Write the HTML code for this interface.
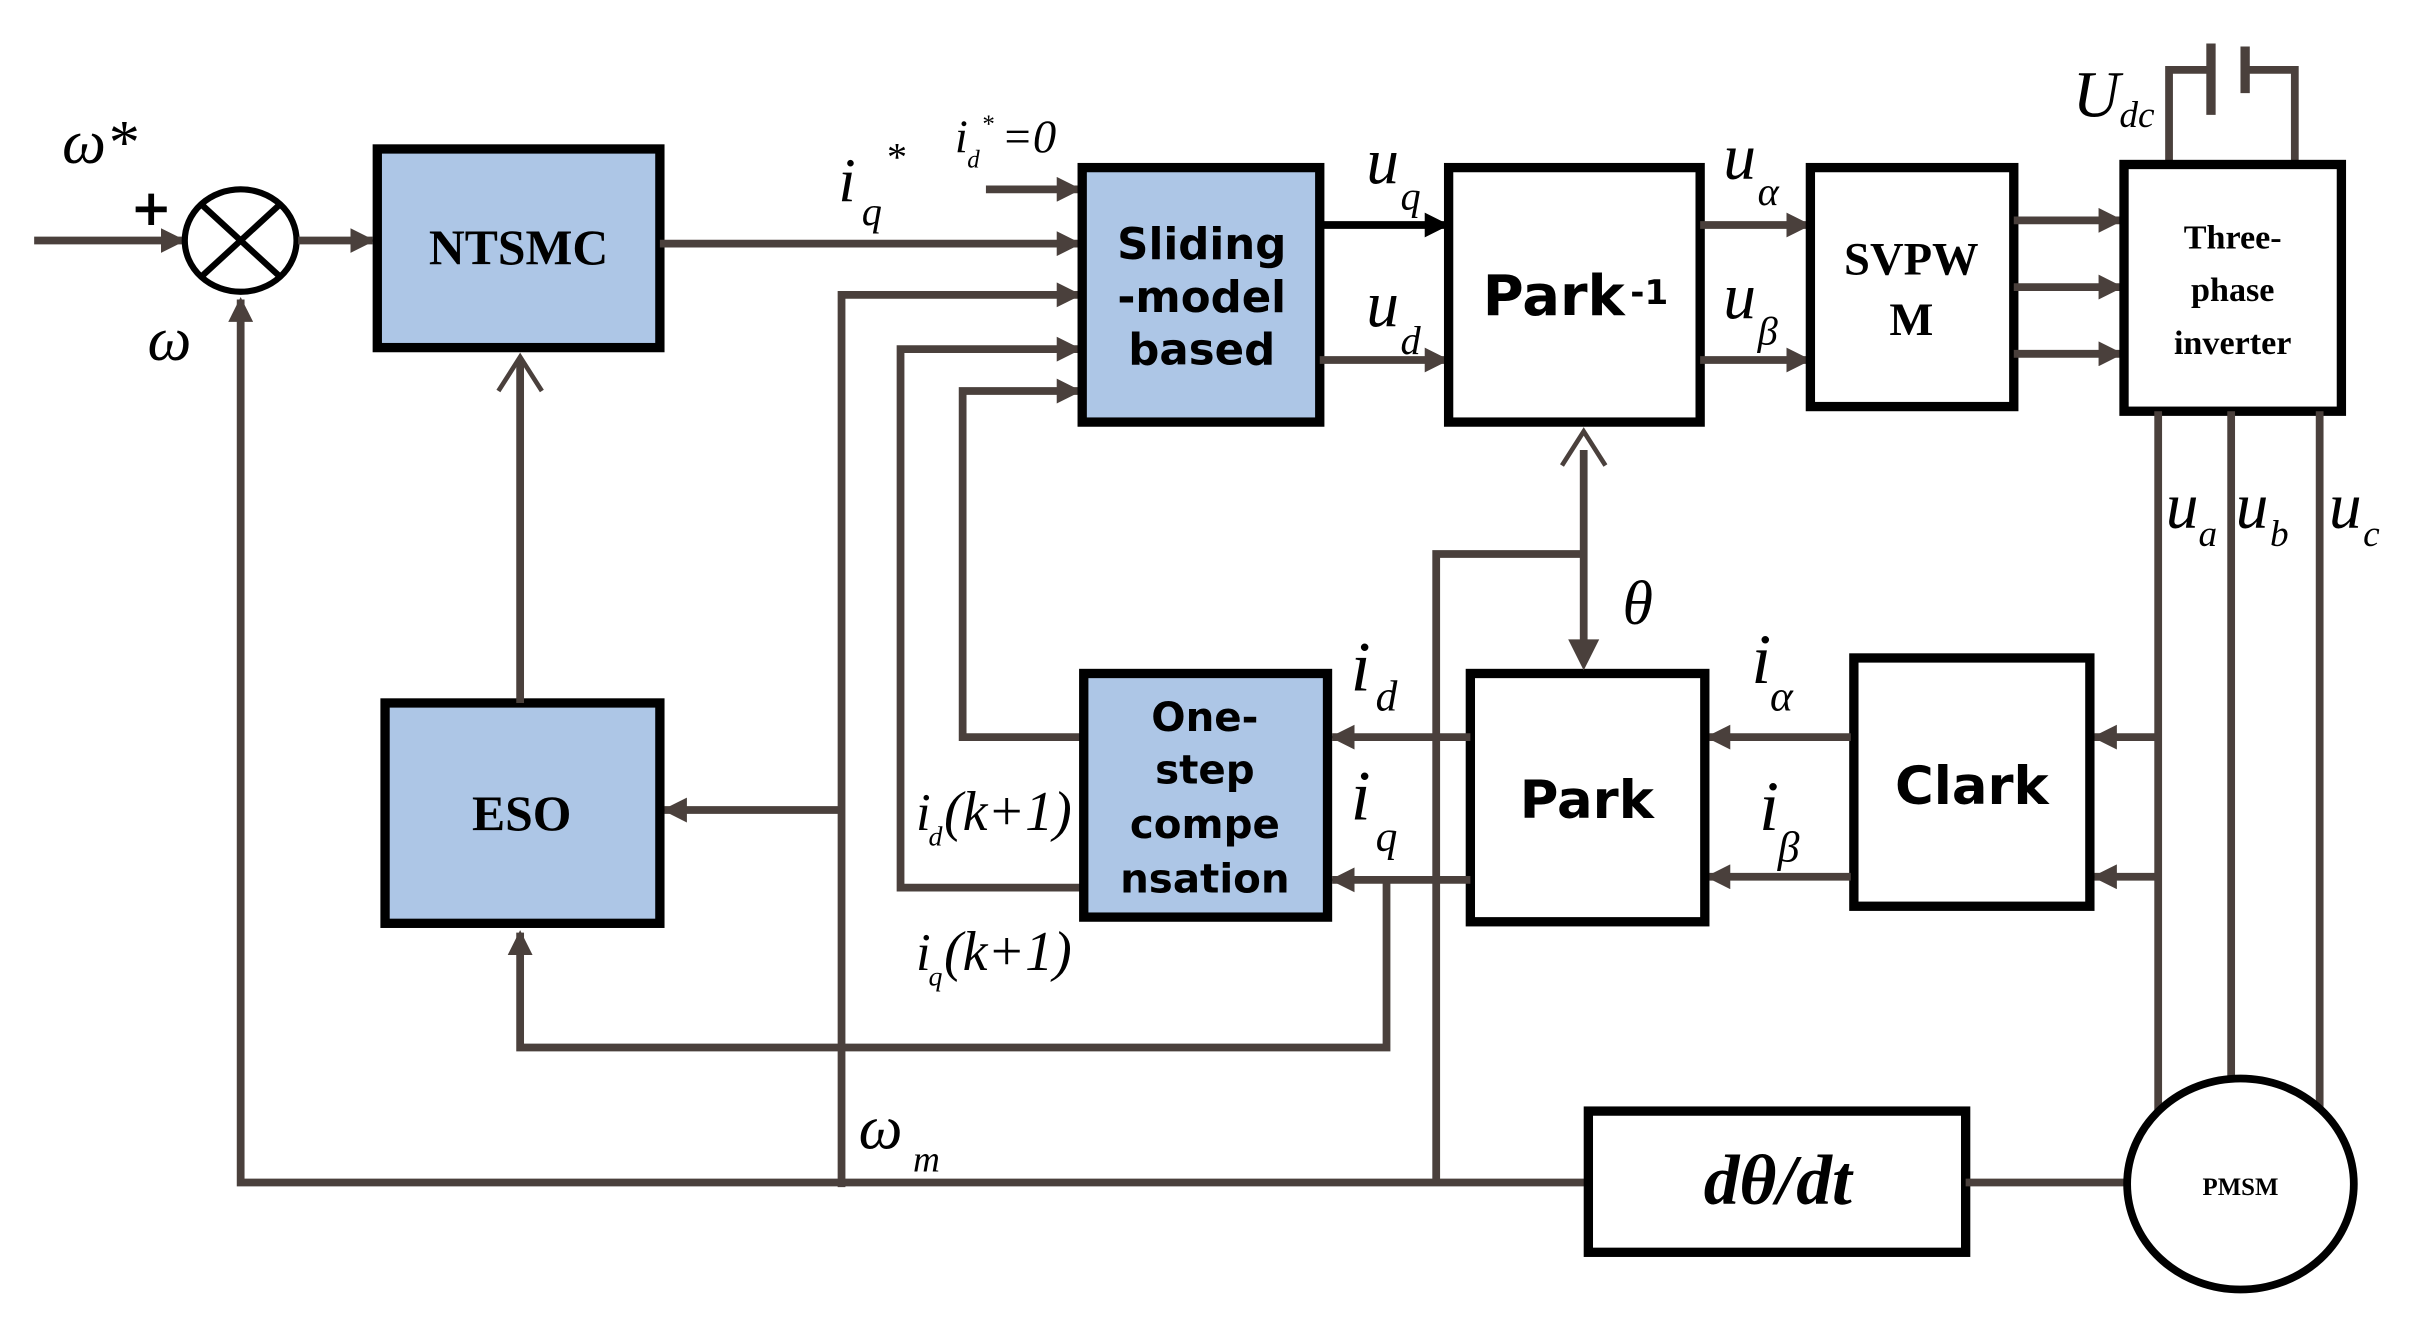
<!DOCTYPE html>
<html><head><meta charset="utf-8"><style>
html,body{margin:0;padding:0;background:#fff;}
svg{display:block;}
.ln{stroke:#4a403c;stroke-width:5;fill:none;}
.tl{stroke:#4a403c;stroke-width:3;fill:none;}
.bx{stroke:#000;stroke-width:6;}
.blue{fill:#adc6e6;}
.wh{fill:#fff;}
.bs{font-family:"DejaVu Sans","Liberation Sans",sans-serif;font-weight:bold;fill:#000;}
.sf{font-family:"Liberation Serif",serif;font-weight:bold;fill:#000;}
.it{font-family:"Liberation Serif",serif;font-style:italic;fill:#000;}
</style></head><body>
<svg width="2433" height="1333" viewBox="0 0 1567 859" preserveAspectRatio="none" xmlns="http://www.w3.org/2000/svg">
<defs>
<marker id="a" viewBox="0 0 10 10" refX="9" refY="5" markerWidth="3.2" markerHeight="3.2" orient="auto"><path d="M0,0 L10,5 L0,10 z" fill="#4a403c"/></marker>
<marker id="ab" viewBox="0 0 10 10" refX="9" refY="5" markerWidth="3.2" markerHeight="3.2" orient="auto"><path d="M0,0 L10,5 L0,10 z" fill="#000"/></marker>
</defs>
<line class="ln" x1="22" y1="155" x2="118" y2="155" marker-end="url(#a)"/>
<ellipse cx="155" cy="155" rx="36" ry="33" fill="#fff" stroke="#000" stroke-width="4"/>
<line x1="130" y1="132" x2="180" y2="178" stroke="#000" stroke-width="4"/>
<line x1="180" y1="132" x2="130" y2="178" stroke="#000" stroke-width="4"/>
<text class="it" x="40" y="105" font-size="40">ω*</text>
<text class="bs" x="84" y="145" font-size="32">+</text>
<text class="it" x="95" y="232" font-size="40">ω</text>
<line class="ln" x1="192" y1="155" x2="240" y2="155" marker-end="url(#a)"/>
<rect class="bx blue" x="243" y="96" width="182" height="128"/>
<text class="sf" x="334" y="170" font-size="32" text-anchor="middle">NTSMC</text>
<line class="ln" x1="425" y1="157" x2="695" y2="157" marker-end="url(#a)"/>
<text class="it" x="540" y="130" font-size="40">i</text><text class="it" x="555" y="145" font-size="26">q</text><text class="it" x="570" y="110" font-size="26">*</text>
<text class="it" x="615" y="98" font-size="30">i</text><text class="it" x="623" y="108" font-size="16">d</text><text class="it" x="632" y="85" font-size="16">*</text><text class="it" x="645" y="98" font-size="30">=0</text>
<line class="ln" x1="635" y1="122" x2="695" y2="122" marker-end="url(#a)"/>
<polyline class="ln" points="542,765 542,190 695,190" marker-end="url(#a)"/>
<polyline class="ln" points="697,572 580,572 580,225 695,225" marker-end="url(#a)"/>
<polyline class="ln" points="697,475 620,475 620,252 695,252" marker-end="url(#a)"/>
<rect class="bx blue" x="697" y="108" width="153" height="164"/>
<text class="bs" x="774" y="167" font-size="28" text-anchor="middle">Sliding</text>
<text class="bs" x="774" y="201" font-size="28" text-anchor="middle">-model</text>
<text class="bs" x="774" y="235" font-size="28" text-anchor="middle">based</text>
<line x1="850" y1="145" x2="932" y2="145" stroke="#000" stroke-width="5" marker-end="url(#ab)"/>
<line class="ln" x1="850" y1="232" x2="932" y2="232" marker-end="url(#a)"/>
<text class="it" x="880" y="118" font-size="42">u</text><text class="it" x="902" y="135" font-size="26">q</text>
<text class="it" x="880" y="210" font-size="42">u</text><text class="it" x="902" y="228" font-size="26">d</text>
<rect class="bx wh" x="933" y="108" width="162" height="164"/>
<text class="bs" x="955" y="203" font-size="36">Park</text><text class="bs" x="1050" y="196" font-size="22">-1</text>
<line class="ln" x1="1095" y1="145" x2="1165" y2="145" marker-end="url(#a)"/>
<line class="ln" x1="1095" y1="232" x2="1165" y2="232" marker-end="url(#a)"/>
<text class="it" x="1110" y="115" font-size="42">u</text><text class="it" x="1132" y="132" font-size="26">α</text>
<text class="it" x="1110" y="205" font-size="42">u</text><text class="it" x="1132" y="222" font-size="26">β</text>
<rect class="bx wh" x="1166" y="108" width="131" height="154"/>
<text class="sf" x="1231" y="177" font-size="30" text-anchor="middle">SVPW</text>
<text class="sf" x="1231" y="216" font-size="30" text-anchor="middle">M</text>
<line class="ln" x1="1297" y1="142" x2="1366" y2="142" marker-end="url(#a)"/>
<line class="ln" x1="1297" y1="185" x2="1366" y2="185" marker-end="url(#a)"/>
<line class="ln" x1="1297" y1="228" x2="1366" y2="228" marker-end="url(#a)"/>
<polyline class="ln" points="1397,106 1397,45 1424,45"/>
<line x1="1424" y1="28" x2="1424" y2="74" stroke="#4a403c" stroke-width="6"/>
<line x1="1446" y1="30" x2="1446" y2="60" stroke="#4a403c" stroke-width="6"/>
<polyline class="ln" points="1446,45 1478,45 1478,106"/>
<text class="it" x="1335" y="75" font-size="42">U</text><text class="it" x="1365" y="82" font-size="24">dc</text>
<rect class="bx wh" x="1368" y="106" width="140" height="159"/>
<text class="sf" x="1438" y="160" font-size="22" text-anchor="middle">Three-</text>
<text class="sf" x="1438" y="194" font-size="22" text-anchor="middle">phase</text>
<text class="sf" x="1438" y="228" font-size="22" text-anchor="middle">inverter</text>
<line class="ln" x1="1390" y1="265" x2="1390" y2="735"/>
<line class="ln" x1="1437" y1="265" x2="1437" y2="695"/>
<line class="ln" x1="1494" y1="265" x2="1494" y2="735"/>
<text class="it" x="1395" y="340" font-size="42">u</text><text class="it" x="1416" y="352" font-size="24">a</text>
<text class="it" x="1440" y="340" font-size="42">u</text><text class="it" x="1462" y="352" font-size="24">b</text>
<text class="it" x="1500" y="340" font-size="42">u</text><text class="it" x="1522" y="352" font-size="24">c</text>
<line class="ln" x1="1390" y1="475" x2="1349" y2="475" marker-end="url(#a)"/>
<line class="ln" x1="1390" y1="565" x2="1349" y2="565" marker-end="url(#a)"/>
<rect class="bx wh" x="1194" y="424" width="152" height="160"/>
<text class="bs" x="1270" y="518" font-size="34" text-anchor="middle">Clark</text>
<line class="ln" x1="1192" y1="475" x2="1100" y2="475" marker-end="url(#a)"/>
<line class="ln" x1="1192" y1="565" x2="1100" y2="565" marker-end="url(#a)"/>
<text class="it" x="1128" y="440" font-size="46">i</text><text class="it" x="1140" y="458" font-size="28">α</text>
<text class="it" x="1133" y="535" font-size="46">i</text><text class="it" x="1145" y="555" font-size="28">β</text>
<rect class="bx wh" x="947" y="434" width="151" height="160"/>
<text class="bs" x="1022" y="527" font-size="34" text-anchor="middle">Park</text>
<line class="ln" x1="947" y1="475" x2="858" y2="475" marker-end="url(#a)"/>
<line class="ln" x1="947" y1="567" x2="858" y2="567" marker-end="url(#a)"/>
<text class="it" x="870" y="445" font-size="46">i</text><text class="it" x="886" y="458" font-size="28">d</text>
<text class="it" x="870" y="528" font-size="46">i</text><text class="it" x="886" y="548" font-size="28">q</text>
<line class="ln" x1="1020" y1="290" x2="1020" y2="415"/>
<polyline class="tl" points="1006,300 1020,278 1034,300" stroke-width="5"/>
<path d="M1010,412 L1030,412 L1020,432 z" fill="#4a403c"/>
<polyline class="ln" points="925,760 925,357 1020,357"/>
<text class="it" x="1045" y="402" font-size="40">θ</text>
<rect class="bx blue" x="698" y="434" width="157" height="157"/>
<text class="bs" x="776" y="471" font-size="26" text-anchor="middle">One-</text>
<text class="bs" x="776" y="505" font-size="26" text-anchor="middle">step</text>
<text class="bs" x="776" y="540" font-size="26" text-anchor="middle">compe</text>
<text class="bs" x="776" y="575" font-size="26" text-anchor="middle">nsation</text>
<text class="it" x="590" y="535" font-size="34">i</text><text class="it" x="598" y="545" font-size="18">d</text><text class="it" x="608" y="535" font-size="36">(k+1)</text>
<text class="it" x="590" y="625" font-size="34">i</text><text class="it" x="598" y="635" font-size="18">q</text><text class="it" x="608" y="625" font-size="36">(k+1)</text>
<polyline class="ln" points="893,567 893,675 335,675 335,601" marker-end="url(#a)"/>
<line class="ln" x1="542" y1="522" x2="428" y2="522" marker-end="url(#a)"/>
<rect class="bx blue" x="248" y="453" width="177" height="142"/>
<text class="sf" x="336" y="535" font-size="32" text-anchor="middle">ESO</text>
<line class="ln" x1="335" y1="453" x2="335" y2="232"/>
<polyline class="tl" points="321,252 335,230 349,252" stroke-width="5"/>
<polyline class="ln" points="1022,762 155,762 155,193" marker-end="url(#a)"/>
<text class="it" x="553" y="740" font-size="40">ω</text><text class="it" x="588" y="755" font-size="24">m</text>
<rect class="bx wh" x="1023" y="716" width="243" height="91"/>
<text class="it" x="1145" y="776" font-size="46" font-weight="bold" text-anchor="middle">dθ/dt</text>
<line class="ln" x1="1266" y1="762" x2="1370" y2="762"/>
<ellipse cx="1443" cy="763" rx="73" ry="68" fill="#fff" stroke="#000" stroke-width="5"/>
<text class="sf" x="1443" y="770" font-size="16" font-weight="normal" text-anchor="middle">PMSM</text>
</svg>
</body></html>
